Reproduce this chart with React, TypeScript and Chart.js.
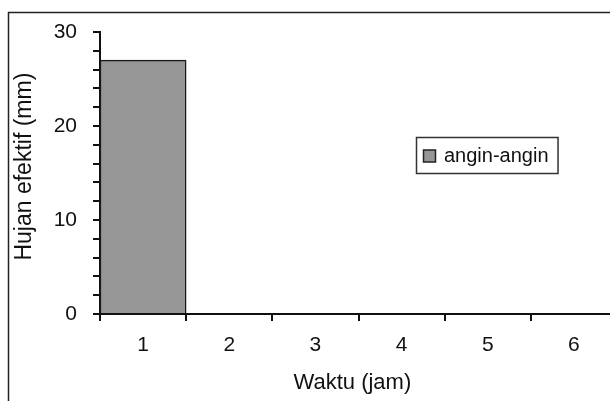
import React, { useEffect, useRef } from "react";
import { Chart, registerables } from "chart.js";

Chart.register(...registerables);

const categories = ["1", "2", "3", "4", "5", "6"];
const seriesLabel = "angin-angin";
const seriesValues = [27, 0, 0, 0, 0, 0];
const yMin = 0;
const yMax = 30;
const yMinorStep = 2;
const yMajorStep = 10;
const xTitle = "Waktu (jam)  ";
const yTitle = "  Hujan efektif (mm)";

const FONT = "'Liberation Sans', Arial, sans-serif";
const BAR_FILL = "#969696";
const INK = "#111111";

const framePlugin = {
  id: "framePlugin",
  beforeDraw(chart: any) {
    const { ctx, width, height } = chart;
    ctx.save();
    ctx.fillStyle = "#ffffff";
    ctx.fillRect(0, 0, width, height);
    ctx.strokeStyle = "#222222";
    ctx.lineWidth = 1.5;
    ctx.beginPath();
    ctx.moveTo(8.5, height);
    ctx.lineTo(8.5, 12.5);
    ctx.lineTo(width, 12.5);
    ctx.stroke();
    ctx.restore();
  },
};

const boxedLegendPlugin = {
  id: "boxedLegend",
  afterDraw(chart: any) {
    const { ctx } = chart;
    const ds = chart.data.datasets[0];
    ctx.save();
    ctx.font = `20px ${FONT}`;
    const tw = ctx.measureText(ds.label).width;
    const x0 = 416.5;
    const y0 = 137.5;
    const w = 28 + tw + 9;
    const h = 36;
    ctx.fillStyle = "#ffffff";
    ctx.fillRect(x0, y0, w, h);
    ctx.strokeStyle = "#333333";
    ctx.lineWidth = 1.5;
    ctx.strokeRect(x0, y0, w, h);
    ctx.fillStyle = ds.backgroundColor;
    ctx.fillRect(x0 + 7, y0 + 12.5, 12, 12);
    ctx.strokeStyle = "#222222";
    ctx.lineWidth = 1.5;
    ctx.strokeRect(x0 + 7, y0 + 12.5, 12, 12);
    ctx.fillStyle = INK;
    ctx.textBaseline = "middle";
    ctx.textAlign = "left";
    ctx.fillText(ds.label, x0 + 27.5, y0 + h / 2 + 0.5);
    ctx.restore();
  },
};

export default function App() {
  const ref = useRef<HTMLCanvasElement | null>(null);

  useEffect(() => {
    document.body.style.overflow = "hidden";
    const canvas = ref.current;
    if (!canvas) return;
    const chart = new Chart(canvas, {
      type: "bar",
      data: {
        labels: categories,
        datasets: [
          {
            label: seriesLabel,
            data: seriesValues,
            backgroundColor: BAR_FILL,
            borderColor: "#1a1a1a",
            borderWidth: 1.5,
            barPercentage: 1,
            categoryPercentage: 1,
          },
        ],
      },
      options: {
        responsive: false,
        animation: false,
        devicePixelRatio: 1,
        layout: { padding: { left: 0, top: 32, right: 23, bottom: 0 } },
        plugins: {
          legend: { display: false },
          tooltip: { enabled: false },
          title: { display: false },
        },
        scales: {
          x: {
            type: "category",
            offset: true,
            grid: {
              offset: true,
              drawOnChartArea: false,
              drawTicks: true,
              tickLength: 7,
              tickColor: INK,
              lineWidth: 2,
            },
            border: { display: true, color: INK, width: 2 },
            ticks: {
              color: INK,
              padding: 12,
              maxRotation: 0,
              font: { family: FONT, size: 21 },
            },
            title: {
              display: true,
              text: xTitle,
              color: INK,
              font: { family: FONT, size: 22 },
              padding: { top: 0, bottom: 24 },
            },
            afterFit(scale: any) {
              scale.height = 106;
            },
          },
          y: {
            min: yMin,
            max: yMax,
            grid: {
              drawOnChartArea: false,
              drawTicks: true,
              tickLength: 7,
              tickColor: INK,
              lineWidth: 2,
            },
            border: { display: true, color: INK, width: 2 },
            ticks: {
              stepSize: yMinorStep,
              color: INK,
              padding: 16,
              autoSkip: false,
              font: { family: FONT, size: 21 },
              callback: (v: any) => (Number(v) % yMajorStep === 0 ? String(v) : ""),
            },
            title: {
              display: true,
              text: yTitle,
              color: INK,
              font: { family: FONT, size: 23 },
              padding: { top: 11, bottom: 0 },
            },
            afterFit(scale: any) {
              scale.width = 100;
            },
          },
        },
      },
      plugins: [framePlugin, boxedLegendPlugin],
    });
    return () => chart.destroy();
  }, []);

  return (
    <div style={{ position: "fixed", left: 0, top: 0, width: 640, height: 420 }}>
      <canvas ref={ref} width={640} height={420} style={{ display: "block", width: 640, height: 420 }} />
    </div>
  );
}
